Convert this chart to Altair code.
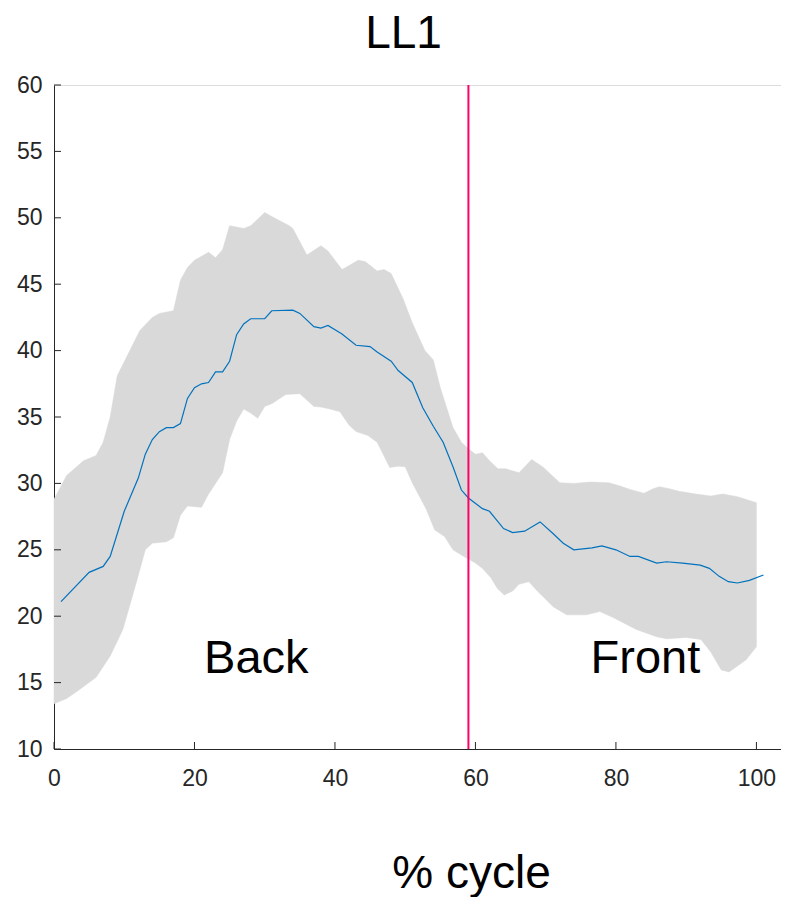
import altair as alt
import pandas as pd

# ---- data ----
mean_x = [1, 5, 7, 8, 10, 12, 13, 14, 15, 16, 17, 18, 19, 20, 21, 22, 23, 24, 25, 26,
          27, 28, 30, 31, 34, 35, 37, 38, 39, 41, 43, 45, 46, 48, 49, 51, 52.5, 54, 55.4,
          56.8, 58, 59, 61, 62, 64, 65.3, 67, 69.2, 71, 72.5, 74, 76.6, 78, 80, 82, 83.2,
          85.8, 87.2, 89.5, 92, 93.3, 94.7, 96, 97.3, 99, 101]
mean_y = [21.1, 23.3, 23.75, 24.5, 27.9, 30.4, 32.2, 33.3, 33.9, 34.2, 34.2, 34.5, 36.4,
          37.2, 37.5, 37.6, 38.4, 38.4, 39.2, 41.2, 42.0, 42.4, 42.4, 43.0, 43.05, 42.8,
          41.8, 41.7, 41.9, 41.25, 40.4, 40.3, 39.9, 39.2, 38.5, 37.6, 35.7, 34.3, 33.1,
          31.25, 29.5, 28.9, 28.1, 27.9, 26.6, 26.3, 26.4, 27.1, 26.25, 25.5, 25.0, 25.15,
          25.3, 25.0, 24.5, 24.5, 24.0, 24.1, 24.0, 23.85, 23.6, 23.0, 22.6, 22.5, 22.7, 23.1]

upper_x = [0, 1.8, 4.2, 6, 7, 8, 9, 10.8, 12.2, 14, 15, 17, 18, 19, 20, 21, 22, 23, 24, 25,
           26, 27, 28, 29, 30, 31, 33.5, 34, 36, 38, 39, 41, 42, 43.3, 44.3, 46, 47, 48,
           49.7, 51, 52.8, 54, 55, 56.8, 58, 59, 60, 61, 62, 63.2, 64.3, 66.2, 68, 69.7,
           72, 74, 76.3, 79, 80.6, 82, 84, 85.3, 86.2, 87.6, 89, 91.4, 93.5, 95.2, 97.3, 100]
upper_y = [28.8, 30.6, 31.7, 32.1, 33.1, 35.0, 38.1, 40.0, 41.5, 42.5, 42.8, 43.0, 45.3,
           46.25, 46.8, 47.1, 47.4, 47.0, 47.6, 49.4, 49.3, 49.2, 49.4, 49.9, 50.4, 50.1,
           49.4, 49.2, 47.2, 47.9, 47.5, 46.1, 46.4, 46.8, 46.7, 46.0, 46.1, 45.8, 43.9,
           42.1, 40.0, 39.3, 37.2, 34.2, 33.1, 32.6, 32.2, 32.3, 31.7, 31.1, 31.1, 30.8,
           31.8, 31.2, 30.05, 30.0, 30.1, 30.05, 29.8, 29.55, 29.25, 29.6, 29.75, 29.6,
           29.4, 29.2, 29.05, 29.2, 29.0, 28.55]

lower_x = [0, 1.8, 3.7, 6, 8, 9.8, 11.7, 13, 14, 16, 17, 18, 19, 21, 22, 23, 24, 25, 26,
           27, 28, 29, 30, 31, 33, 35, 37, 38, 39.3, 40.7, 42, 43, 44.7, 46, 47.8, 49, 50,
           51, 53, 54.2, 55.6, 56.8, 58, 60, 61, 62.2, 63.1, 64.1, 65.3, 66.2, 67.6, 68.8,
           71.1, 73, 75.8, 77.7, 79.6, 82.9, 85.8, 87.2, 90, 92.1, 93.5, 95, 96.1, 98.5, 100]
lower_y = [13.4, 13.8, 14.5, 15.4, 17.0, 19.0, 22.5, 25.0, 25.5, 25.6, 25.9, 27.6, 28.3,
           28.2, 29.2, 30.0, 30.8, 33.3, 34.7, 35.6, 35.3, 34.9, 35.8, 36.0, 36.7, 36.75,
           35.8, 35.75, 35.6, 35.4, 34.4, 33.9, 33.6, 33.1, 31.2, 31.3, 31.25, 30.05, 28.05,
           26.5, 26.0, 25.0, 24.6, 24.0, 23.6, 22.9, 22.1, 21.6, 21.9, 22.4, 22.6, 21.9,
           20.7, 20.1, 20.1, 20.35, 19.9, 19.0, 18.45, 18.3, 18.4, 18.25, 17.3, 15.95,
           15.8, 16.7, 17.7]

divider_x = [59]
phase_labels = ["Back", "Front"]
phase_label_x = [28.8, 84.2]
phase_label_y = [15.7, 15.7]

x_ticks = [0, 20, 40, 60, 80, 100]
y_ticks = [10, 15, 20, 25, 30, 35, 40, 45, 50, 55, 60]

FONT = "Liberation Sans"
AXC = "#262626"

# ---- tables ----
band = pd.DataFrame({
    "x": upper_x + lower_x[::-1],
    "y": upper_y + lower_y[::-1],
    "o": list(range(len(upper_x) + len(lower_x))),
})
mean = pd.DataFrame({"x": mean_x, "y": mean_y})
div = pd.DataFrame({"x": divider_x, "y": [60], "y2": [10]})
labels = pd.DataFrame({"t": phase_labels, "x": phase_label_x, "y": phase_label_y})
xt = pd.DataFrame({"x": x_ticks})
yt = pd.DataFrame({"y": y_ticks})

xscale = alt.Scale(domain=[0, 103.5], nice=False, zero=False)
yscale = alt.Scale(domain=[10, 60], nice=False, zero=False)

xaxis = alt.Axis(values=x_ticks, ticks=False, tickSize=0, grid=False, domainColor=AXC,
                 labelColor=AXC, labelFont=FONT, labelFontSize=23, labelPadding=18,
                 labelFlush=False,
                 title="% cycle", titleFont=FONT, titleFontSize=46, titleFontWeight="normal",
                 titleColor="#000000", titleX=417, titleY=138, titleBaseline="alphabetic",
                 titleAlign="center", titleAnchor="middle")
yaxis = alt.Axis(values=y_ticks, ticks=False, tickSize=0, grid=False, domainColor=AXC,
                 labelColor=AXC, labelFont=FONT, labelFontSize=23, labelPadding=12,
                 labelFlush=False, title=None)

base_band = alt.Chart(band).mark_line(
    fill="#d9d9d9", stroke="#d9d9d9", strokeWidth=0.5, interpolate="linear-closed"
).encode(
    x=alt.X("x:Q", scale=xscale, axis=xaxis),
    y=alt.Y("y:Q", scale=yscale, axis=yaxis),
    order="o:Q",
)

mean_line = alt.Chart(mean).mark_line(color="#0072BD", strokeWidth=1.2).encode(
    x=alt.X("x:Q", scale=xscale), y=alt.Y("y:Q", scale=yscale)
)

divider = alt.Chart(div).mark_rule(color="#ff0066", strokeWidth=2).encode(
    x=alt.X("x:Q", scale=xscale), y=alt.Y("y:Q", scale=yscale), y2="y2:Q"
)

xtick_marks = alt.Chart(xt).mark_rule(color=AXC, strokeWidth=1).encode(
    x=alt.X("x:Q", scale=xscale), y=alt.value(664), y2=alt.value(657)
)
ytick_marks = alt.Chart(yt).mark_rule(color=AXC, strokeWidth=1).encode(
    y=alt.Y("y:Q", scale=yscale), x=alt.value(0), x2=alt.value(7)
)

texts = alt.Chart(labels).mark_text(
    font=FONT, fontSize=47, color="#000000", align="center", baseline="alphabetic"
).encode(x=alt.X("x:Q", scale=xscale), y=alt.Y("y:Q", scale=yscale), text="t:N")

chart = alt.layer(
    base_band, mean_line, divider, xtick_marks, ytick_marks, texts
).properties(
    width=727,
    height=664,
    autosize="none",
    padding={"left": 46, "top": 77, "right": 0, "bottom": 148},
    title=alt.TitleParams(text="LL1", font=FONT, fontSize=46, fontWeight="normal",
                          color="#000000", anchor="middle", dx=-14, dy=25, offset=5,
                          baseline="alphabetic"),
).configure_view(stroke=None).configure(background="#ffffff")

chart.save("out.html", embed_options={"renderer": "svg", "actions": False})
